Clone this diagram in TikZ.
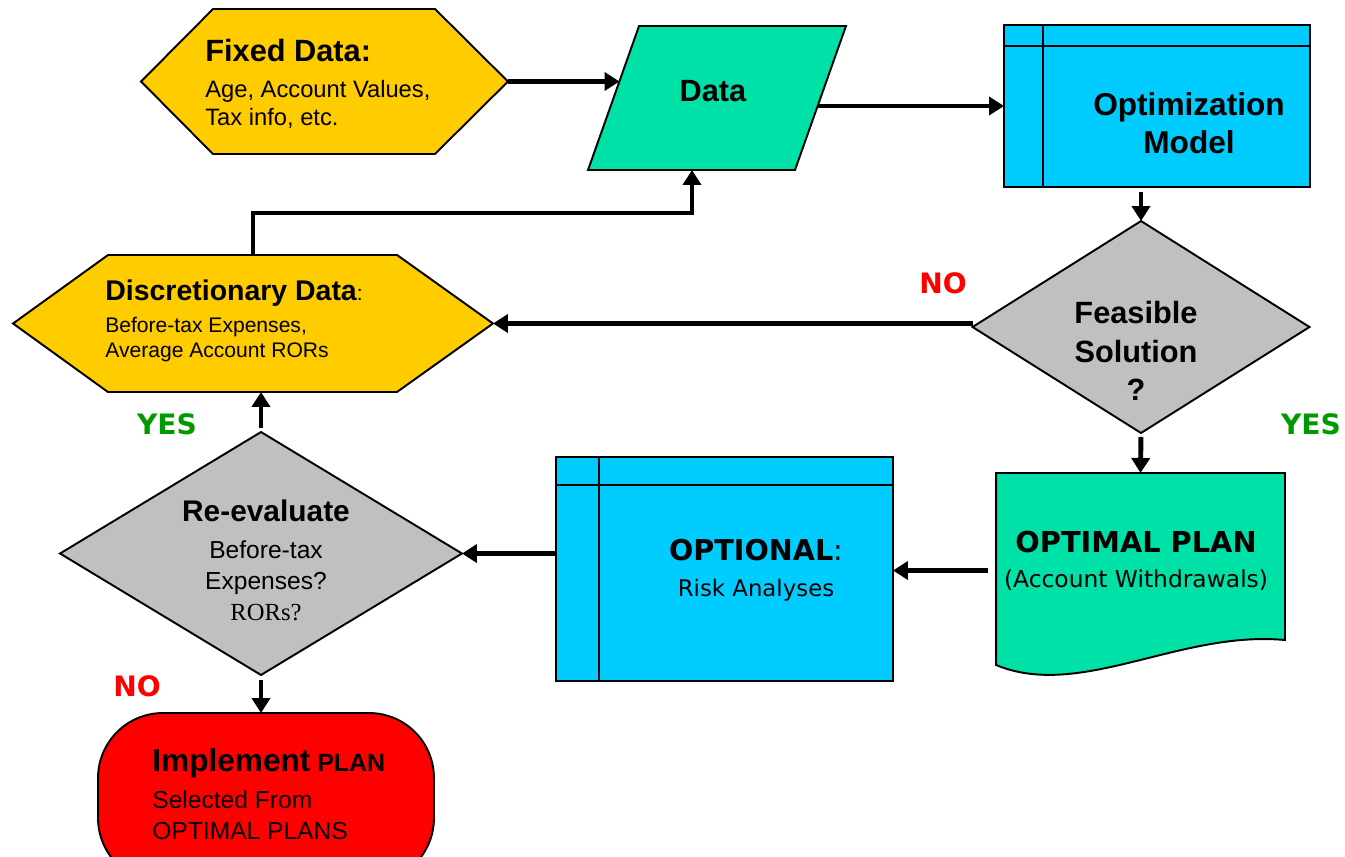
\documentclass[tikz,border=0pt]{standalone}
\usepackage{fontspec}
\setmainfont{Liberation Sans}
\newfontfamily\tahoma{DejaVu Sans}
\newfontfamily\serifrm{Liberation Serif}
\usetikzlibrary{arrows.meta}
\usetikzlibrary{shapes.geometric}
\definecolor{gold}{HTML}{FFCC00}
\definecolor{mint}{HTML}{00E1A8}
\definecolor{sky}{HTML}{00CCFF}
\definecolor{silver}{HTML}{C0C0C0}
\definecolor{nored}{HTML}{FF0000}
\definecolor{yesgreen}{HTML}{009900}
\newcommand\fs[2]{\fontsize{#1}{#2}\selectfont}

\begin{document}
\begin{tikzpicture}[x=0.02cm,y=-0.02cm,
    shp/.style={draw,line width=1.1pt},
    blank/.style={inner sep=0pt,outer sep=0pt},
    flow/.style={line width=2.8pt,-{Triangle[length=0.3cm,width=0.36cm]}},
    answer/.style={font=\tahoma\bfseries\fs{16}{19}}]
    \clip (0,0) rectangle (1345,856);

    \node[blank,minimum width=7.34cm,minimum height=2.9cm] (fixed) at (324.5,81.5) {};
    \draw[shp,fill=gold] (fixed.west) -- ++(72,-72.5) -- ++(222,0) -- (fixed.east) -- ++(-73,72.5) -- ++(-222,0) -- cycle;
    \node[anchor=west,align=left,inner sep=0pt,font=\fs{13.5}{16}] (fixedtxt) at (205,84) {{\fs{17.5}{21}\bfseries Fixed Data:}\\[4.4pt]Age, Account Values,\\Tax info, etc.};

    \node[blank,minimum width=5.16cm,minimum height=2.88cm] (data) at (717,98) {};
    \draw[shp,fill=mint] (data.south west) -- ([xshift=1.02cm]data.north west) -- (data.north east) -- ([xshift=-1.02cm]data.south east) -- cycle;
    \node[font=\bfseries\fs{17.5}{21}] (datatxt) at (713,91) {Data};

    \node[shp,blank,fill=sky,minimum width=6.12cm,minimum height=3.24cm] (opt) at (1157,106) {};
    \draw[shp] ([xshift=0.78cm]opt.north west) -- ([xshift=0.78cm]opt.south west);
    \draw[shp] ([yshift=-0.42cm]opt.north west) -- ([yshift=-0.42cm]opt.north east);
    \node[align=center,font=\bfseries\fs{18}{21.5}] (opttxt) at (1189,123) {Optimization\\Model};

    \node[shp,blank,diamond,fill=silver,minimum width=6.74cm,minimum height=4.24cm] (feas) at (1141,327) {};
    \node[align=center,font=\bfseries\fs{17.5}{22}] (feastxt) at (1136,351) {Feasible\\Solution\\?};

    \node[blank,minimum width=9.6cm,minimum height=2.74cm] (disc) at (253,323.5) {};
    \draw[shp,fill=gold] (disc.west) -- ++(95,-68.5) -- ++(289,0) -- (disc.east) -- ++(-96,68.5) -- ++(-289,0) -- cycle;
    \node[anchor=west,align=left,inner sep=0pt,font=\fs{12}{14.5}] (disctxt) at (105,321) {{\fs{16.2}{19}\bfseries Discretionary Data}:\\[3.5pt]Before-tax Expenses,\\Average Account RORs};

    \node[blank,minimum width=5.78cm,minimum height=3.9cm] (plan) at (1140.5,570.5) {};
    \draw[shp,fill=mint] (plan.north west) -- (plan.north east) -- ++(0,167) .. controls (1180,630) and (1080,700) .. ([yshift=0.06cm]plan.south west) -- cycle;
    \node[align=center,font=\tahoma\fs{13.3}{19.8}] (plantxt) at (1136,561) {{\fs{16.4}{19}\bfseries OPTIMAL PLAN}\\(Account Withdrawals)};

    \node[shp,blank,fill=sky,minimum width=6.74cm,minimum height=4.48cm] (optional) at (724.5,569) {};
    \draw[shp] ([xshift=0.86cm]optional.north west) -- ([xshift=0.86cm]optional.south west);
    \draw[shp] ([yshift=-0.56cm]optional.north west) -- ([yshift=-0.56cm]optional.north east);
    \node[align=center,font=\tahoma\fs{13}{20.4}] (optionaltxt) at (756,570) {{\fs{16.3}{19}\textbf{OPTIONAL}:}\\Risk Analyses};

    \node[shp,blank,diamond,fill=silver,minimum width=8.04cm,minimum height=4.86cm] (reeval) at (261,553.5) {};
    \node[align=center,font=\fs{14}{17.6}] (reevaltxt) at (266,560) {{\fs{17}{20}\bfseries Re-evaluate}\\[3.4pt]Before-tax\\Expenses?\\{\serifrm RORs?}};

    \node[shp,blank,fill=nored,rounded corners=1.3cm,minimum width=6.72cm,minimum height=3.4cm] (impl) at (266,798) {};
    \node[anchor=west,align=left,inner sep=0pt,font=\fs{14}{17.6}] (impltxt) at (152,794) {{\fs{18}{21}\bfseries Implement} {\fs{14.2}{17}\bfseries PLAN}\\[3.4pt]Selected From\\OPTIMAL PLANS};

    \node[answer,text=nored] (nofeas) at (943,283) {NO};
    \node[answer,text=yesgreen] (yesfeas) at (1311,424) {YES};
    \node[answer,text=yesgreen] (yesre) at (167,424) {YES};
    \node[answer,text=nored] (nore) at (137,686) {NO};

    \draw[flow] (fixed.east) -- ([xshift=0.63cm]data.west |- fixed.east);
    \draw[flow] ([xshift=-0.57cm]data.east |- opt.west) -- (opt.west);
    \draw[flow,shorten <=0.1cm] (opt.south -| feas.north) -- (feas.north);
    \draw[flow,shorten <=0.08cm] (feas.south) -- (plan.north);
    \draw[flow] (disc.east -| feas.west) -- (disc.east);
    \draw[flow] (disc.north) -- ++(0,-42) -| ([xshift=-0.5cm]data.south);
    \draw[flow,shorten <=0.16cm] (plan.west) -- (plan.west -| optional.east);
    \draw[flow] (optional.west |- reeval.east) -- (reeval.east);
    \draw[flow,shorten <=0.08cm] (reeval.north) -- (reeval.north |- disc.south);
    \draw[flow,shorten <=0.1cm] (reeval.south) -- (reeval.south |- impl.north);
\end{tikzpicture}
\end{document}
